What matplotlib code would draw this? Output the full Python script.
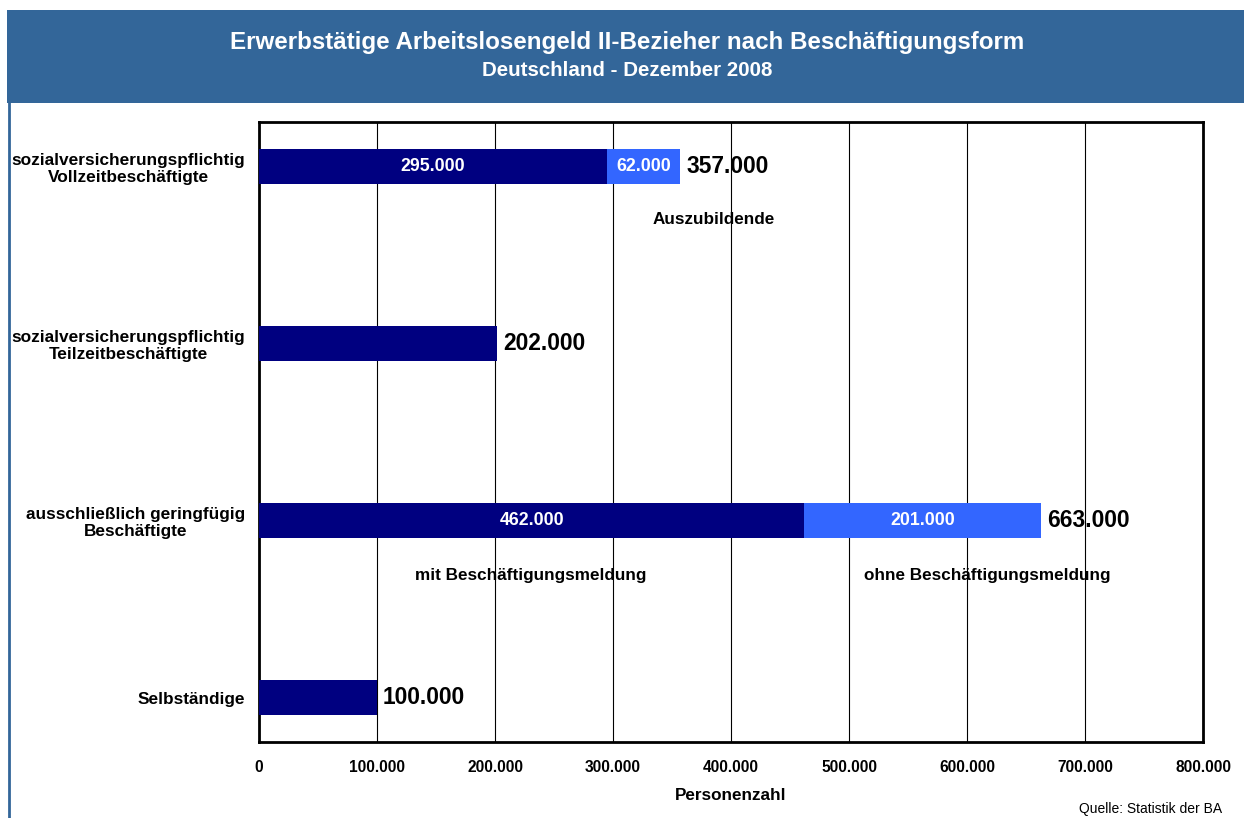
import matplotlib.pyplot as plt
from matplotlib.patches import Rectangle
from matplotlib.lines import Line2D

plt.rcParams['font.family'] = ['Liberation Sans', 'DejaVu Sans']

# data
categories = ['sozialversicherungspflichtig\nVollzeitbeschäftigte',
              'sozialversicherungspflichtig\nTeilzeitbeschäftigte',
              'ausschließlich geringfügig\nBeschäftigte',
              'Selbständige']
base = [295000, 202000, 462000, 100000]
extra = [62000, 0, 201000, 0]
xticks = [0, 100000, 200000, 300000, 400000, 500000, 600000, 700000, 800000]


def fmt(v):
    """German thousands separator."""
    return '{:,}'.format(v).replace(',', '.')


W, H = 1244, 818
fig = plt.figure(figsize=(W / 100, H / 100), dpi=100)

# banner + frame
fig.patches.append(Rectangle((7 / W, 1 - 103 / H), 1, 93 / H,
                             transform=fig.transFigure, facecolor='#336699',
                             edgecolor='none', zorder=0))
fig.lines.append(Line2D([8.5 / W, 8.5 / W], [0, 1 - 103 / H],
                        transform=fig.transFigure, color='#336699', lw=2))
fig.text(627 / W, 1 - 42 / H,
         'Erwerbstätige Arbeitslosengeld II-Bezieher nach Beschäftigungsform',
         ha='center', va='center', color='white', fontsize=17.4, fontweight='bold')
fig.text(627 / W, 1 - 71 / H, 'Deutschland - Dezember 2008',
         ha='center', va='center', color='white', fontsize=14.8, fontweight='bold')

ax = fig.add_axes([259 / W, 1 - 742 / H, (1203 - 259) / W, (742 - 122) / H])
y = list(range(len(categories)))
totals = [b + e for b, e in zip(base, extra)]

ax.barh(y, base, height=0.2, color='#000080', zorder=3)
ax.barh(y, extra, left=base, height=0.2, color='#3366FF', zorder=3)

for i in y:
    if extra[i] > 0:
        ax.text(base[i] / 2, i, fmt(base[i]), ha='center', va='center',
                color='white', fontsize=12.8, fontweight='bold', zorder=4)
        ax.text(base[i] + extra[i] / 2, i, fmt(extra[i]), ha='center',
                va='center', color='white', fontsize=12.8, fontweight='bold',
                zorder=4)
    ax.text(totals[i] + 5000, i, fmt(totals[i]), ha='left', va='center',
            fontsize=16.4, fontweight='bold', zorder=1)

ax.text(385500, 0.3, 'Auszubildende', ha='center', va='center',
        fontsize=12.3, fontweight='bold', zorder=1)
ax.text(230000, 2.31, 'mit Beschäftigungsmeldung', ha='center', va='center',
        fontsize=12.3, fontweight='bold', zorder=1)
ax.text(617000, 2.31, 'ohne Beschäftigungsmeldung', ha='center', va='center',
        fontsize=12.3, fontweight='bold', zorder=1)

ax.set_xlim(0, 800000)
ax.set_ylim(3.25, -0.25)
ax.set_xticks(xticks)
ax.set_xticklabels([fmt(v) for v in xticks], fontsize=11.2, fontweight='bold')
ax.set_yticks(y)
ax.set_yticklabels(categories, fontsize=12.4, fontweight='bold',
                   multialignment='center')
ax.tick_params(length=0)
ax.tick_params(axis='x', pad=13)
ax.tick_params(axis='y', pad=10)
ax.grid(axis='x', color='black', lw=0.8, zorder=2.5)
ax.set_axisbelow(False)
for s in ax.spines.values():
    s.set_linewidth(2)
ax.set_xlabel('Personenzahl', fontsize=12.3, fontweight='bold', labelpad=9)

fig.text(1222 / W, 1 - 809 / H, 'Quelle: Statistik der BA', ha='right',
         va='center', fontsize=10)

fig.savefig('out.png', dpi=100)
